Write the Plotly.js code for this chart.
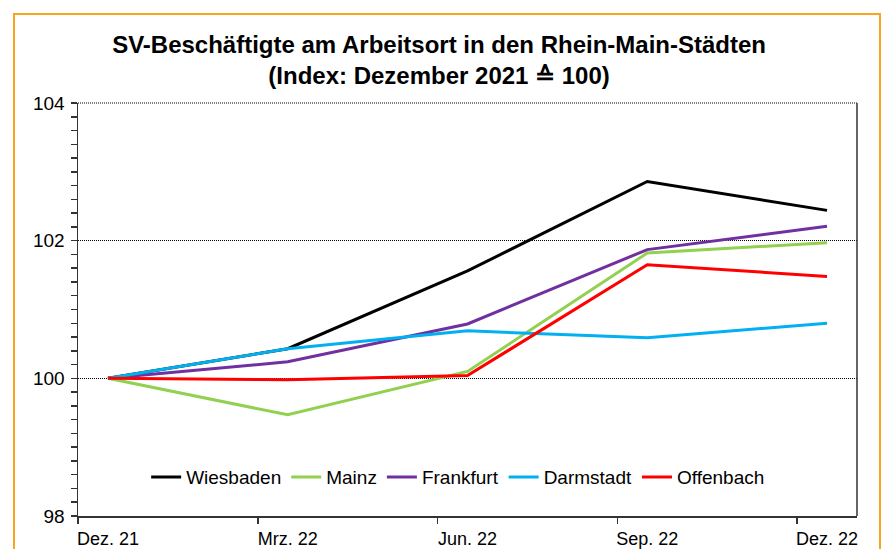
<!DOCTYPE html>
<html>
<head>
<meta charset="utf-8">
<script src="https://cdn.plot.ly/plotly-3.0.1.min.js"></script>
<style>
  html, body { margin: 0; padding: 0; background: #fff; }
  #frame { position: absolute; left: 13px; top: 13px; width: 868px; height: 580px; border: 2px solid #F8A41F; box-sizing: border-box; }
  #chart { position: absolute; left: 0; top: 0; width: 887px; height: 549px; }
</style>
</head>
<body>
<div id="frame"></div>
<div id="chart"></div>
<script>
// Data
const categories = ['Dez. 21', 'Mrz. 22', 'Jun. 22', 'Sep. 22', 'Dez. 22'];
const monthsSinceStart = [0, 3, 6, 9, 12];
const wiesbaden = [100, 100.43, 101.56, 102.86, 102.44];
const mainz     = [100, 99.47, 100.10, 101.82, 101.97];
const frankfurt = [100, 100.24, 100.79, 101.87, 102.21];
const darmstadt = [100, 100.43, 100.69, 100.59, 100.80];
const offenbach = [100, 99.98, 100.04, 101.65, 101.48];
const yTicks = [98, 100, 102, 104];

const seriesNames = ['Wiesbaden', 'Mainz', 'Frankfurt', 'Darmstadt', 'Offenbach'];
const seriesValues = [wiesbaden, mainz, frankfurt, darmstadt, offenbach];
const seriesColors = ['#000000', '#92D050', '#7030A0', '#00B0F0', '#FF0000'];

const traces = seriesNames.map((name, i) => ({
  type: 'scatter',
  mode: 'lines',
  name: name,
  x: monthsSinceStart,
  y: seriesValues[i],
  line: { color: seriesColors[i], width: 3 },
  hoverinfo: 'x+y+name'
}));

const boundaries = monthsSinceStart.map(m => m - 0.5);

const layout = {
  width: 887,
  height: 549,
  margin: { l: 78, r: 30, t: 103, b: 33 },
  paper_bgcolor: 'rgba(0,0,0,0)',
  plot_bgcolor: 'rgba(0,0,0,0)',
  font: { family: 'Liberation Sans, Arial, sans-serif', color: '#000' },
  title: {
    text: '<b>SV-Beschäftigte am Arbeitsort in den Rhein-Main-Städten<br>(Index: Dezember 2021 ≙ 100)</b>',
    font: { size: 24, family: 'Liberation Sans, Arial, sans-serif', color: '#000' },
    xref: 'container', x: 0.495, xanchor: 'center',
    yref: 'container', y: 1 - 53 / 549, yanchor: 'top'
  },
  showlegend: true,
  legend: {
    orientation: 'h',
    x: 0.488, xanchor: 'center',
    y: 0.094, yanchor: 'middle',
    font: { size: 19, family: 'Liberation Sans, Arial, sans-serif', color: '#000' },
    bgcolor: 'rgba(0,0,0,0)',
    traceorder: 'normal',
    itemwidth: 30
  },
  xaxis: {
    range: [-0.5, 12.5],
    tickmode: 'array',
    tickvals: monthsSinceStart,
    ticktext: categories,
    ticks: 'outside',
    ticklen: 6,
    tickcolor: 'rgba(0,0,0,0)',
    tickfont: { size: 18 },
    showgrid: false,
    zeroline: false,
    showline: true,
    linecolor: '#333',
    linewidth: 1.5,
    minor: {
      tickmode: 'array',
      tickvals: boundaries,
      ticks: 'outside',
      ticklen: 6,
      tickwidth: 1.5,
      tickcolor: '#333',
      showgrid: false
    },
    fixedrange: true
  },
  yaxis: {
    range: [98, 104],
    tickmode: 'array',
    tickvals: yTicks,
    ticks: 'outside',
    ticklen: 6,
    tickwidth: 1.5,
    tickcolor: '#333',
    tickfont: { size: 19 },
    ticklabelstandoff: 2,
    showgrid: true,
    gridcolor: '#000',
    gridwidth: 1,
    griddash: '1px,1px',
    zeroline: false,
    showline: true,
    linecolor: '#333',
    linewidth: 1.5,
    minor: {
      dtick: 0.2,
      tick0: 98,
      ticks: 'outside',
      ticklen: 6,
      tickwidth: 1.5,
      tickcolor: '#333',
      showgrid: false
    },
    fixedrange: true
  },
  shapes: [
    { type: 'line', xref: 'paper', yref: 'paper', x0: 1, x1: 1, y0: 0, y1: 1,
      line: { color: '#333', width: 1.5 } },
    { type: 'line', xref: 'paper', yref: 'paper', x0: 0, x1: 1, y0: 1, y1: 1,
      line: { color: '#555', width: 1.5, dash: '1px,1px' } }
  ]
};

Plotly.newPlot('chart', traces, layout, { displayModeBar: false, staticPlot: true });
</script>
</body>
</html>
